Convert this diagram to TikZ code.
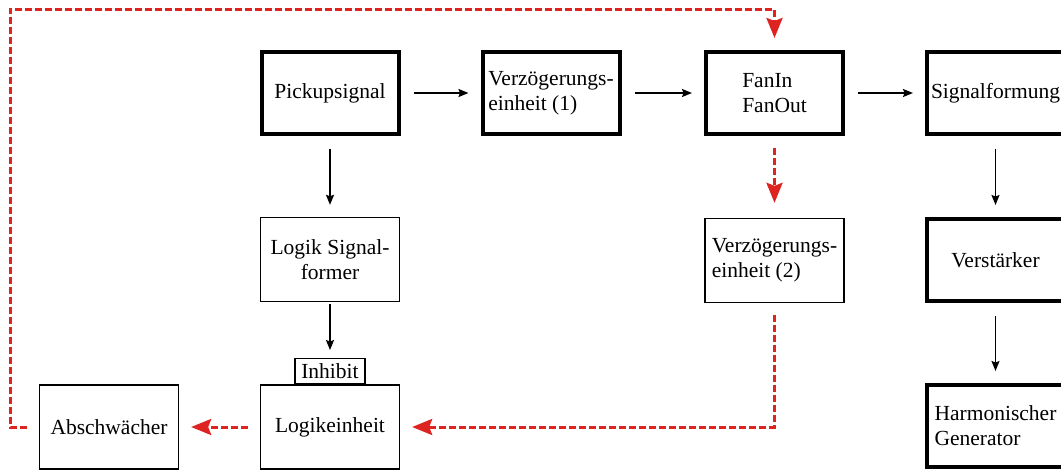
\documentclass[tikz,border=0pt]{standalone}
\usepackage{fontspec}
\setmainfont{Liberation Serif}
\usetikzlibrary{arrows.meta,positioning}
\definecolor{rt}{RGB}{221,36,33}

\begin{document}
\begin{tikzpicture}[x=1pt,y=-1pt,
  every node/.style={font=\fontsize{21.5}{25}\selectfont},
  dickbox/.style={draw,line width=4pt,minimum width=137pt,minimum height=82pt,inner sep=0pt,align=left},
  duennbox/.style={draw,line width=1.3pt,minimum width=139pt,minimum height=84pt,inner sep=0pt,align=left},
  fluss/.style={-{Stealth[length=10pt,width=8pt,inset=1.5pt]},line width=1.5pt,shorten <=13pt,shorten >=12pt},
  rueck/.style={-{Stealth[length=20pt,width=16pt,inset=3pt]},rt,line width=3pt,
    dash pattern=on 7pt off 3pt,shorten <=12pt,shorten >=12pt}]
  \clip (0,0) rectangle (1061,471);

  % obere Reihe
  \node[dickbox] (pick) at (330,93) {Pickupsignal};
  \node[dickbox] (verz1) at (551,93) {Verzögerungs-\\einheit (1)};
  \node[dickbox] (fan) at (774.5,93) {FanIn\\FanOut};
  \node[dickbox] (sig) at (995.5,93) {Signalformung};

  % mittlere Reihe
  \node[duennbox,align=center] (logik) at (330,259.5) {Logik Signal-\\former};
  \node[duennbox] (verz2) at (774.5,260.5) {Verzögerungs-\\einheit (2)};
  \node[dickbox] (verst) at (995.5,260) {Verstärker};

  % untere Reihe
  \node[duennbox] (absch) at (109,427) {Abschwächer};
  \node[duennbox] (einheit) at (330,427) {Logikeinheit};
  \node[draw,line width=1.3pt,minimum width=70pt,minimum height=25pt,inner sep=0pt,anchor=south]
    (inhibit) at (einheit.north) {Inhibit};
  \node[dickbox] (harm) at (995.5,426) {Harmonischer\\Generator};

  % Signalweg
  \draw[fluss] (pick) -- (verz1);
  \draw[fluss] (verz1) -- (fan);
  \draw[fluss] (fan) -- (sig);
  \draw[fluss] (pick) -- (logik);
  \draw[fluss,shorten <=2pt,shorten >=8pt] (logik.south) -- (inhibit.north);
  \draw[fluss] (sig) -- (verst);
  \draw[fluss] (verst) -- (harm);

  % Rueckfuehrung
  \coordinate (ecke) at (10,9);
  \draw[rueck,shorten >=15pt] (fan.south) -- (verz2.north);
  \draw[rueck] (verz2.south) |- (einheit.east);
  \draw[rueck] (einheit.west) -- (absch.east);
  \draw[rueck] (absch.west) -| (ecke) -| (fan.north);
\end{tikzpicture}
\end{document}
